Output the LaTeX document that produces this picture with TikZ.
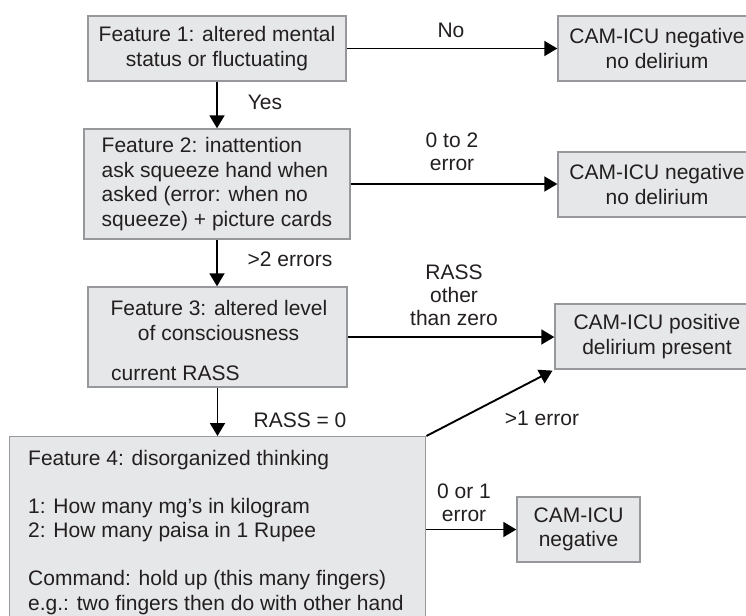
\documentclass[tikz,border=0pt]{standalone}
\usepackage{fontspec}
\setmainfont{Liberation Sans}
\usetikzlibrary{arrows.meta}
\definecolor{boxfill}{RGB}{230,231,232}
\definecolor{boxline}{RGB}{150,152,155}
\definecolor{ink}{RGB}{35,31,32}
\begin{document}
\begin{tikzpicture}[x=1pt,y=-1pt,
  font=\fontsize{21}{24.5}\selectfont, text=ink,
  box/.style={draw=boxline, fill=boxfill, line width=1.4pt, inner sep=0pt, align=center},
  lbl/.style={anchor=base, inner sep=0pt},
  arr/.style={draw=black, line width=1.9pt, -{Triangle[length=13pt,width=15pt]}}]
\useasboundingbox (0,0) rectangle (746,615);
\clip (0,0) rectangle (746,615);

% boxes
\node[box, minimum width=258pt, minimum height=65pt] (f1) at (217,48.5)
  {Feature 1: altered mental\\status or fluctuating};
\node[box, minimum width=266pt, minimum height=110pt, align=left] (f2) at (217,184)
  {Feature 2: inattention\\ask squeeze hand when\\asked (error: when no\\squeeze) + picture cards};
\node[box, minimum width=259pt, minimum height=100pt] (f3) at (217.5,337) {};
\node[lbl] (f3a) at (219,315) {Feature 3: altered level};
\node[lbl] (f3b) at (218.5,340) {of consciousness};
\node[lbl, anchor=base west] (f3c) at (111,380) {current RASS};

\node[box, anchor=north west, minimum width=416pt, minimum height=200pt] (f4) at (9,436) {};
\node[lbl, anchor=base west] (f4a) at (28,465) {Feature 4: disorganized thinking};
\node[lbl, anchor=base west] (f4b) at (28,513) {1: How many mg’s in kilogram};
\node[lbl, anchor=base west] (f4c) at (28,537) {2: How many paisa in 1 Rupee};
\node[lbl, anchor=base west] (f4d) at (28,585) {Command: hold up (this many fingers)};
\node[lbl, anchor=base west] (f4e) at (28,610) {e.g.: two fingers then do with other hand};

\node[box, minimum width=198pt, minimum height=65pt] (n1) at (657,48.5)
  {CAM-ICU negative\\no delirium};
\node[box, minimum width=198pt, minimum height=65pt] (n2) at (657,184.5)
  {CAM-ICU negative\\no delirium};
\node[box, minimum width=204pt, minimum height=65pt] (p) at (657,336.5)
  {CAM-ICU positive\\delirium present};
\node[box, minimum width=123pt, minimum height=65pt] (s) at (578.5,529.5)
  {CAM-ICU\\negative};

% connectors
\draw[arr] (f1.east) -- (n1.west);
\draw[arr] (f1.south) -- (f1.south |- f2.north);
\draw[arr] (f2.east) -- (f2.east -| n2.west);
\draw[arr] (f2.south) -- (f2.south |- f3.north);
\draw[arr] (f3.east) -- (f3.east -| p.west);
\draw[arr] (f3.south) -- (f3.south |- f4.north);
\draw[arr, shorten >=2pt] (f4.north east) -- (p.south west);
\draw[arr] (s.west -| f4.east) -- (s.west);

% labels
\node[lbl] (lno) at (451,38) {No};
\node[lbl] (lyes) at (265,110) {Yes};
\node[lbl] (l2a) at (452,147) {0 to 2};
\node[lbl] (l2b) at (452,170) {error};
\node[lbl] (l3) at (290,266) {>2 errors};
\node[lbl] (l4a) at (454,279) {RASS};
\node[lbl] (l4b) at (454,302) {other};
\node[lbl] (l4c) at (454,325) {than zero};
\node[lbl] (l5) at (300,427) {RASS = 0};
\node[lbl] (l6) at (542,425) {>1 error};
\node[lbl] (l7a) at (464,498) {0 or 1};
\node[lbl] (l7b) at (464,521) {error};
\end{tikzpicture}
\end{document}
